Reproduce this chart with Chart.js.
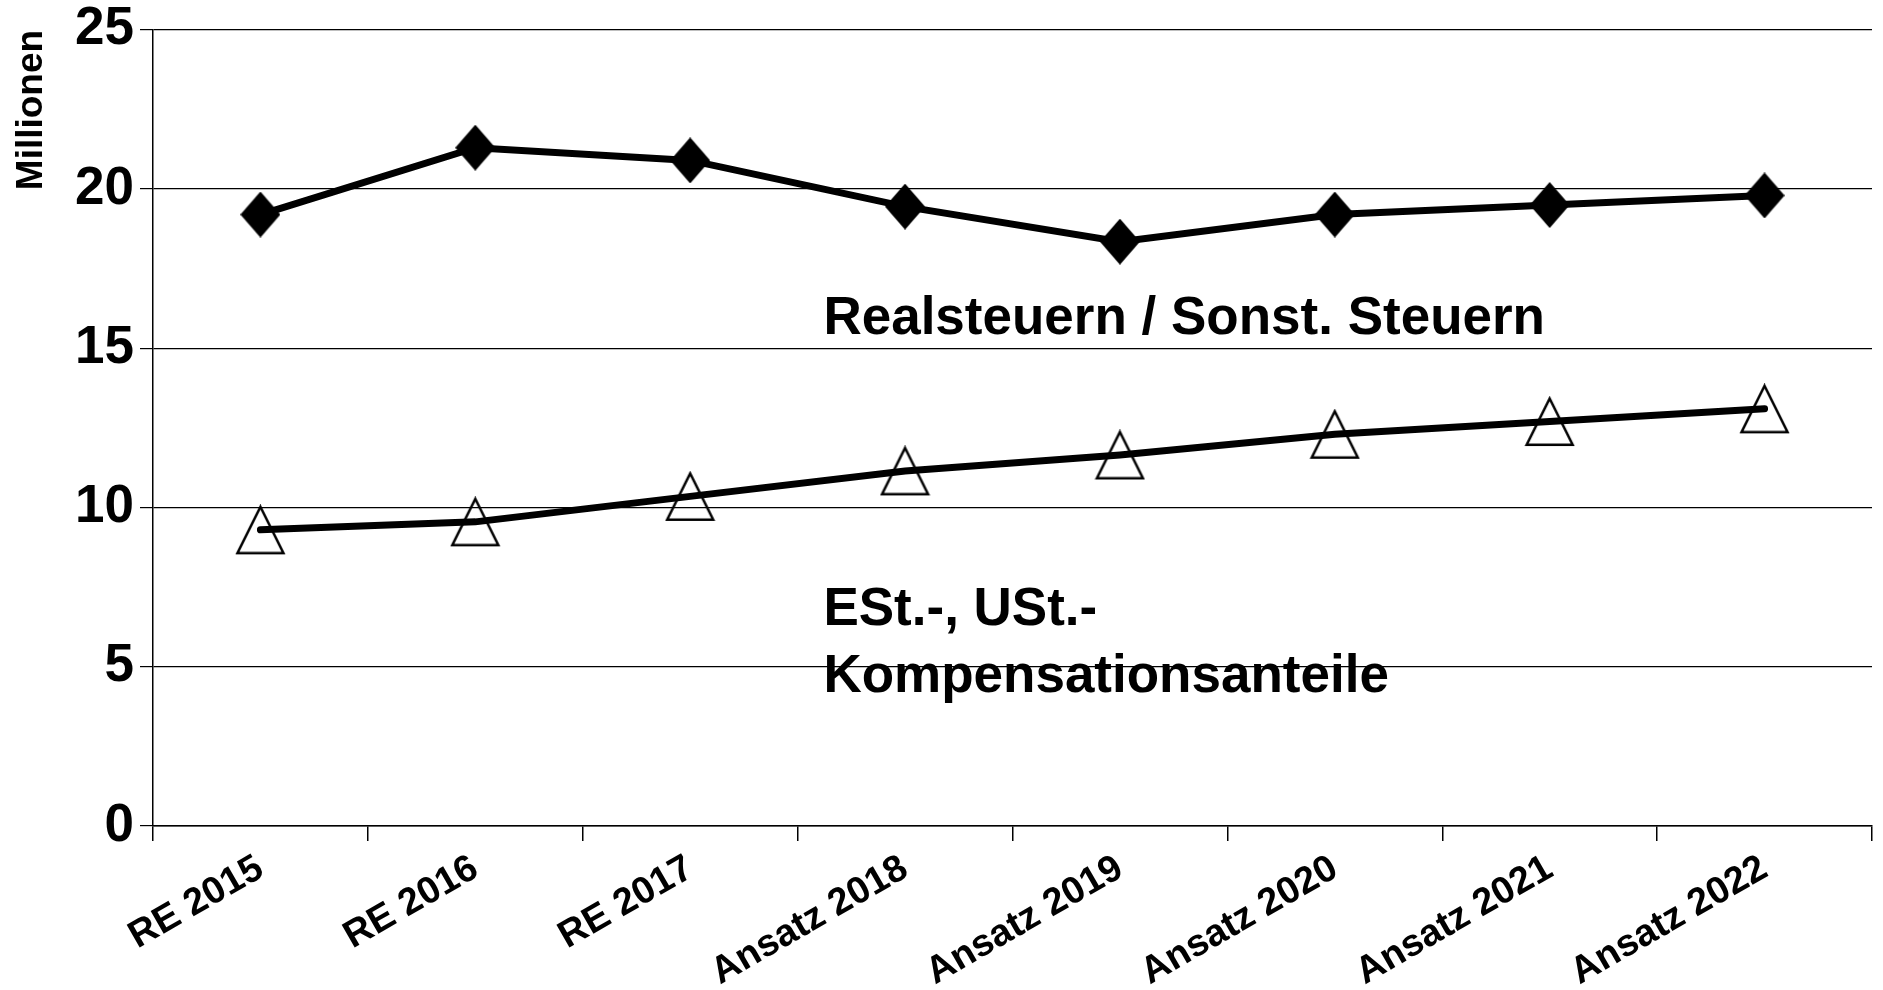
<!DOCTYPE html>
<html>
<head>
<meta charset="utf-8">
<script src="https://cdn.jsdelivr.net/npm/chart.js@4.4.0/dist/chart.umd.min.js"></script>
<style>
  html, body { margin: 0; padding: 0; background: #fff; }
  #wrap { position: relative; width: 1883px; height: 990px; }
</style>
</head>
<body>
<div id="wrap"><canvas id="myChart"></canvas></div>
<script>
  var categories = ["RE 2015", "RE 2016", "RE 2017", "Ansatz 2018", "Ansatz 2019", "Ansatz 2020", "Ansatz 2021", "Ansatz 2022"];
  var realsteuern = [19.2, 21.3, 20.9, 19.45, 18.35, 19.2, 19.5, 19.8];
  var anteile = [9.3, 9.55, 10.35, 11.15, 11.65, 12.3, 12.7, 13.1];
  var yTicks = [0, 5, 10, 15, 20, 25];
  var seriesNames = ["Realsteuern / Sonst. Steuern", "ESt.-, USt.-", "Kompensationsanteile"];

  var FONT = "'Liberation Sans', Arial, Helvetica, sans-serif";
  Chart.defaults.font.family = FONT;
  Chart.defaults.color = "#000";

  // marker images
  function makeDiamond(w, h) {
    var c = document.createElement("canvas");
    c.width = w; c.height = h;
    var g = c.getContext("2d");
    g.fillStyle = "#000";
    g.beginPath();
    g.moveTo(w / 2, 0);
    g.lineTo(w, h / 2);
    g.lineTo(w / 2, h);
    g.lineTo(0, h / 2);
    g.closePath();
    g.fill();
    return c;
  }
  function makeTriangle(w, h, lw) {
    var c = document.createElement("canvas");
    c.width = w; c.height = h;
    var g = c.getContext("2d");
    g.strokeStyle = "#000";
    g.lineWidth = lw;
    g.lineJoin = "miter";
    g.beginPath();
    g.moveTo(w / 2, lw);
    g.lineTo(w - lw, h - lw / 2 - 1);
    g.lineTo(lw, h - lw / 2 - 1);
    g.closePath();
    g.stroke();
    return c;
  }

  var textPlugin = {
    id: "seriesText",
    afterDatasetsDraw: function (chart) {
      var ctx = chart.ctx;
      var x = chart.scales.x, y = chart.scales.y;
      ctx.save();
      ctx.font = "bold 53px " + FONT;
      ctx.fillStyle = "#000";
      ctx.textAlign = "left";
      ctx.textBaseline = "alphabetic";
      var left = x.getPixelForValue(2.62);
      ctx.fillText(seriesNames[0], left, y.getPixelForValue(15.45));
      ctx.fillText(seriesNames[1], left, y.getPixelForValue(6.3));
      ctx.fillText(seriesNames[2], left, y.getPixelForValue(4.2));
      ctx.restore();
    },
  };

  var ctx = document.getElementById("myChart").getContext("2d");
  var myChart = new Chart(ctx, {
    type: "line",
    data: {
      labels: categories,
      datasets: [
        {
          label: seriesNames[0],
          data: realsteuern,
          borderColor: "#000",
          borderWidth: 7,
          borderCapStyle: "round",
          tension: 0,
          pointStyle: makeDiamond(40, 46),
        },
        {
          label: seriesNames[1] + " " + seriesNames[2],
          data: anteile,
          borderColor: "#000",
          borderWidth: 7,
          borderCapStyle: "round",
          tension: 0,
          pointStyle: makeTriangle(51, 51, 2.5),
        },
      ],
    },
    options: {
      responsive: true,
      maintainAspectRatio: false,
      animation: false,
      layout: { padding: { top: 18, right: 8, left: 0, bottom: 0 } },
      scales: {
        x: {
          offset: true,
          afterFit: function (scale) { scale.height = 164; },
          grid: {
            offset: true,
            drawOnChartArea: false,
            drawTicks: true,
            tickLength: 15,
            color: "#000",
            lineWidth: 1.5,
          },
          border: { display: true, color: "#000", width: 1.5 },
          ticks: {
            autoSkip: false,
            minRotation: 30,
            maxRotation: 30,
            padding: 5,
            font: { size: 38, weight: "bold" },
            color: "#000",
          },
        },
        y: {
          min: 0,
          max: 25,
          afterFit: function (scale) { scale.width = 153; },
          afterBuildTicks: function (scale) {
            scale.ticks = yTicks.map(function (v) { return { value: v }; });
          },
          grid: {
            color: "#000",
            lineWidth: 1.2,
            tickLength: 13,
          },
          border: { display: true, color: "#000", width: 1.5 },
          ticks: {
            padding: 6,
            font: { size: 53, weight: "bold", lineHeight: 0.9 },
            color: "#000",
          },
          title: {
            display: true,
            text: "Millionen",
            align: "end",
            padding: { top: 10, bottom: 0 },
            font: { size: 37, weight: "bold" },
            color: "#000",
          },
        },
      },
      plugins: {
        legend: { display: false },
        tooltip: { enabled: false },
      },
    },
    plugins: [textPlugin],
  });
</script>
</body>
</html>
